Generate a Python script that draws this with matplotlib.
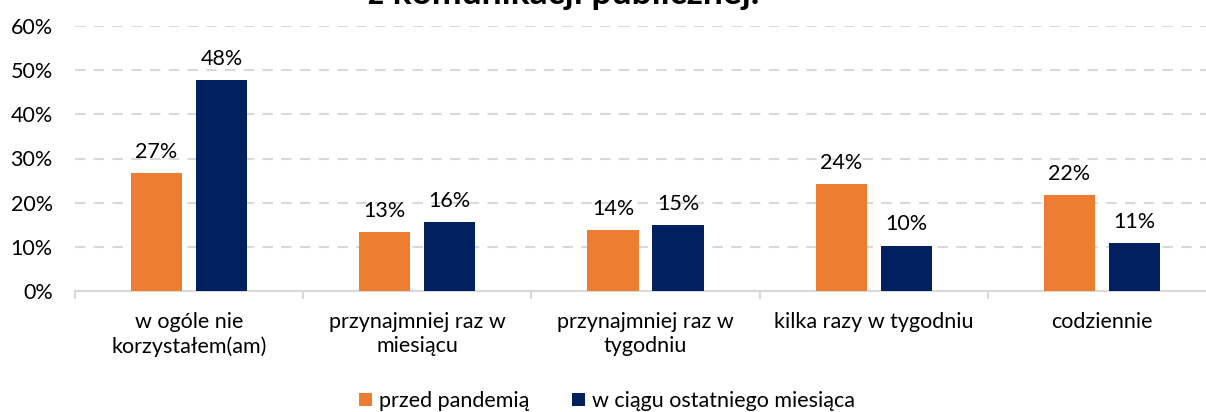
import matplotlib
matplotlib.use('Agg')
import matplotlib.pyplot as plt
import numpy as np
from matplotlib.ticker import PercentFormatter, FixedLocator

# Data
categories = ['w ogóle nie\nkorzystałem(am)', 'przynajmniej raz w\nmiesiącu',
              'przynajmniej raz w\ntygodniu', 'kilka razy w tygodniu', 'codziennie']
before = [26.7, 13.3, 13.8, 24.3, 21.7]
last_month = [47.8, 15.6, 15.0, 10.3, 10.9]
before_labels = ['27%', '13%', '14%', '24%', '22%']
last_labels = ['48%', '16%', '15%', '10%', '11%']
series_names = ['przed pandemią', 'w ciągu ostatniego miesiąca']
title = 'z komunikacji publicznej.'

orange = '#ED7D31'
navy = '#002060'
grey = '#D9D9D9'

plt.rcParams['font.family'] = ['Lato', 'DejaVu Sans']
fs = 15.5

W, H = 1206, 412
fig = plt.figure(figsize=(W / 100, H / 100), dpi=100)
ax = fig.add_axes([75 / W, 121 / H, 1141 / W, 265 / H])

x = np.arange(len(categories))
bw = 0.224
off = 0.1425
b1 = ax.bar(x - off, before, bw, color=orange, label=series_names[0], zorder=3)
b2 = ax.bar(x + off, last_month, bw, color=navy, label=series_names[1], zorder=3)

for bars, labels in [(b1, before_labels), (b2, last_labels)]:
    for rect, lab in zip(bars, labels):
        ax.annotate(lab, (rect.get_x() + rect.get_width() / 2, rect.get_height()),
                    xytext=(0, 8), textcoords='offset points',
                    ha='center', va='bottom', fontsize=fs, color='black')

ax.set_xlim(-0.5, len(categories) - 0.5)
ax.set_ylim(0, 60)
ax.set_yticks(np.arange(0, 61, 10))
ax.yaxis.set_major_formatter(PercentFormatter(decimals=0))
ax.yaxis.grid(True, color=grey, linestyle=(0, (5, 4)), linewidth=1.5, zorder=0)
ax.set_axisbelow(True)

ax.set_xticks(x)
ax.set_xticklabels(categories, fontsize=fs, linespacing=1.25)
ax.xaxis.set_minor_locator(FixedLocator(np.arange(-0.5, len(categories), 1)))
ax.tick_params(axis='x', which='major', length=0, pad=15)
ax.tick_params(axis='x', which='minor', length=6, color=grey, width=1.5)
ax.tick_params(axis='y', length=0, pad=16, labelsize=fs)

for s in ['top', 'right', 'left']:
    ax.spines[s].set_visible(False)
ax.spines['bottom'].set_color(grey)
ax.spines['bottom'].set_linewidth(1.5)

fig.text(564 / W, 1 - 4 / H, title, ha='center', va='baseline',
         fontsize=25.5, fontweight='bold')

fig.legend(handles=[b1, b2], loc='center', bbox_to_anchor=(607 / W, 11 / H),
           ncol=2, frameon=False, fontsize=fs, handlelength=0.6, handleheight=0.6,
           handletextpad=0.3, columnspacing=2.0, borderpad=0)

fig.savefig('out.png', dpi=100)
